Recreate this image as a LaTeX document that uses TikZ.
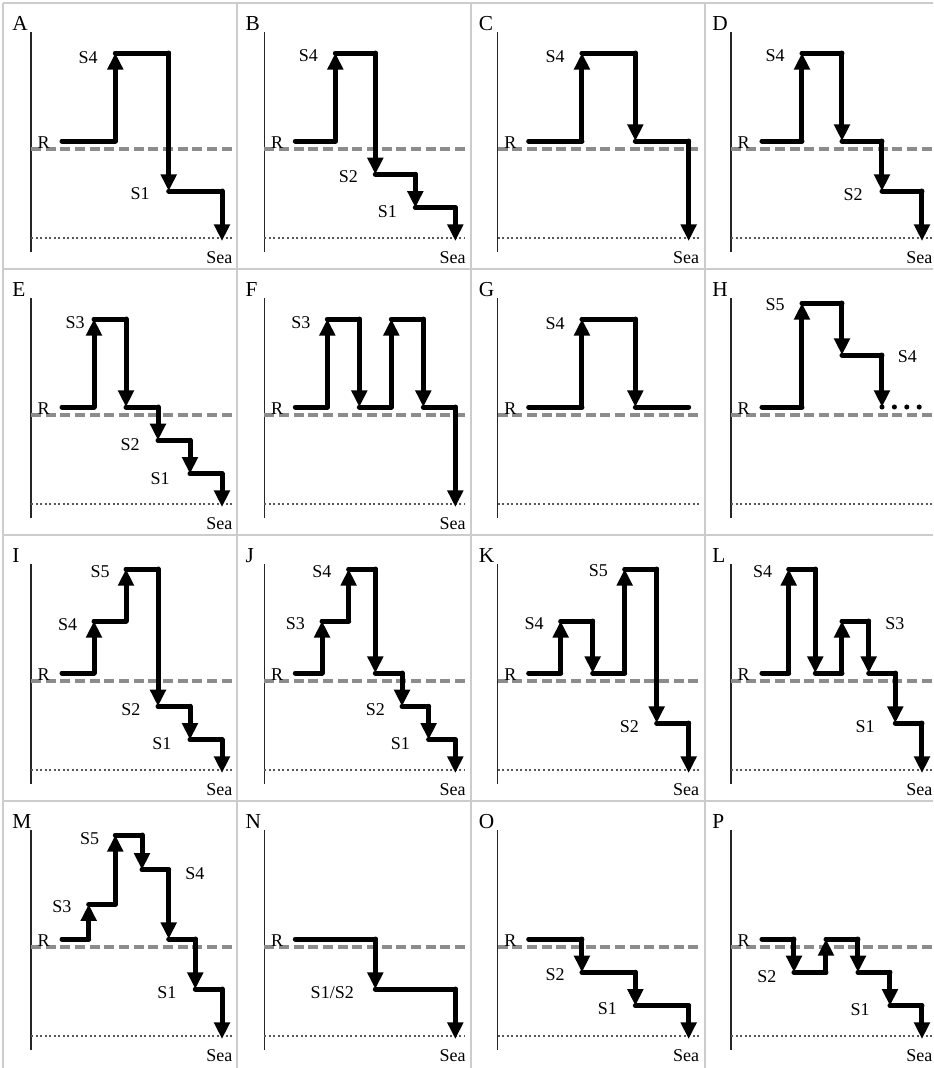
\documentclass[tikz,border=0pt]{standalone}
\usepackage{fontspec}
\setmainfont{Liberation Serif}
\usetikzlibrary{arrows.meta}

\def\colw{233.33}
\def\rowh{266}

\tikzset{
  gridline/.style={draw=black!20,line width=1.3pt},
  axisline/.style={draw=black!85,line width=1.1pt},
  riverlevel/.style={draw=black!45,line width=3pt,dash pattern=on 7.5pt off 3.5pt},
  sealevel/.style={draw=black!65,line width=2pt,dash pattern=on 1.5pt off 1.9pt},
  flow/.style={line width=3.75pt,line cap=round},
  flowstep/.style={flow,-{Triangle[length=12.5pt,width=11.5pt]}},
  stage/.style={inner sep=0pt},
  panelname/.style={inner sep=0pt,anchor=base west,font=\fontsize{16}{19}\selectfont},
}

% axis, river level, sea level and letter of one panel
\newcommand{\panelframe}[1]{%
  \draw[axisline] (28,29) -- (28,249);
  \draw[riverlevel] (28,146) -- (229,146);
  \draw[sealevel] (28,235) -- (229,235);
  \node[panelname] (#1) at (9,27.5) {#1};
  \node[stage,anchor=base east] (#1-R) at (47,145) {R};
}
% staircase through the points, arrows on the vertical parts
\newcommand{\stairs}[2]{%
  \foreach \px/\py [count=\n,remember=\n as \m (initially 0)] in {#2}{
    \coordinate (#1\n) at (\px,\py);
    \ifnum\n>1\relax
      \ifodd\n\relax \draw[flowstep] (#1\m) -- (#1\n);
      \else \draw[flow] (#1\m) -- (#1\n);
      \fi
    \fi
  }%
}

\begin{document}
\begin{tikzpicture}[x=0.75pt,y=-0.75pt,font=\fontsize{13.5}{16}\selectfont]
\useasboundingbox (0,0) rectangle (933,1068);
\foreach \gx in {3,237,471,705} \draw[gridline] (\gx,3) -- (\gx,1068);
\foreach \gy in {3,269,535,801} \draw[gridline] (3,\gy) -- (933,\gy);

% A
\begin{scope}[shift={(0*\colw+3,0*\rowh+3)}]
  \panelframe{A}
  \stairs{A}{59/138, 112.3/138, 112.3/50, 165.7/50, 165.7/188, 219/188, 219/238}
  \node[stage,anchor=east] (A-S4) at (95,55) {S4};
  \node[stage,anchor=east] (A-S1) at (147,191) {S1};
  \node[stage,below=8pt,xshift=-2pt] (A-sea) at (A7) {Sea};
\end{scope}
% B
\begin{scope}[shift={(1*\colw+3,0*\rowh+3)}]
  \panelframe{B}
  \stairs{B}{59/138, 99/138, 99/50, 139/50, 139/171.3, 179/171.3, 179/204.7, 219/204.7, 219/238}
  \node[stage,anchor=east] (B-S4) at (81.7,53) {S4};
  \node[stage,anchor=east] (B-S2) at (121.7,174) {S2};
  \node[stage,anchor=east] (B-S1) at (160.7,208.7) {S1};
  \node[stage,below=8pt,xshift=-2pt] (B-sea) at (B9) {Sea};
\end{scope}
% C
\begin{scope}[shift={(2*\colw+3,0*\rowh+3)}]
  \panelframe{C}
  \stairs{C}{59/138, 112.3/138, 112.3/50, 165.7/50, 165.7/138, 219/138, 219/238}
  \node[stage,anchor=east] (C-S4) at (95.3,54) {S4};
  \node[stage,below=8pt,xshift=-2pt] (C-sea) at (C7) {Sea};
\end{scope}
% D
\begin{scope}[shift={(3*\colw+3,0*\rowh+3)}]
  \panelframe{D}
  \stairs{D}{59/138, 99/138, 99/50, 139/50, 139/138, 179/138, 179/188, 219/188, 219/238}
  \node[stage,anchor=east] (D-S4) at (82,53) {S4};
  \node[stage,anchor=east] (D-S2) at (160,192) {S2};
  \node[stage,below=8pt,xshift=-2pt] (D-sea) at (D9) {Sea};
\end{scope}

% E
\begin{scope}[shift={(0*\colw+3,1*\rowh+3)}]
  \panelframe{E}
  \stairs{E}{59/138, 91/138, 91/50, 123/50, 123/138, 155/138, 155/171.3, 187/171.3, 187/204.7, 219/204.7, 219/238}
  \node[stage,anchor=east] (E-S3) at (82,54) {S3};
  \node[stage,anchor=east] (E-S2) at (137,176) {S2};
  \node[stage,anchor=east] (E-S1) at (167,210) {S1};
  \node[stage,below=8pt,xshift=-2pt] (E-sea) at (E11) {Sea};
\end{scope}
% F
\begin{scope}[shift={(1*\colw+3,1*\rowh+3)}]
  \panelframe{F}
  \stairs{F}{59/138, 91/138, 91/50, 123/50, 123/138, 155/138, 155/50, 187/50, 187/138, 219/138, 219/238}
  \node[stage,anchor=east] (F-S3) at (74.4,53.3) {S3};
  \node[stage,below=8pt,xshift=-2pt] (F-sea) at (F11) {Sea};
\end{scope}
% G
\begin{scope}[shift={(2*\colw+3,1*\rowh+3)}]
  \panelframe{G}
  \stairs{G}{59/138, 112.3/138, 112.3/50, 165.7/50, 165.7/138, 219/138}
  \node[stage,anchor=east] (G-S4) at (95.3,54.3) {S4};
\end{scope}
% H
\begin{scope}[shift={(3*\colw+3,1*\rowh+3)}]
  \panelframe{H}
  \stairs{H}{59/138, 99/138, 99/34, 139/34, 139/86, 179/86, 179/138}
  \foreach \k in {0,...,3} \fill (H7) ++(12.4*\k,0) circle[radius=1.9pt];
  \node[stage,anchor=east] (H-S5) at (82,36) {S5};
  \node[stage,anchor=west] (H-S4) at (194.7,87.7) {S4};
\end{scope}

% I
\begin{scope}[shift={(0*\colw+3,2*\rowh+3)}]
  \panelframe{I}
  \stairs{I}{59/138, 91/138, 91/86, 123/86, 123/34, 155/34, 155/171.3, 187/171.3, 187/204.7, 219/204.7, 219/238}
  \node[stage,anchor=east] (I-S5) at (107,36.7) {S5};
  \node[stage,anchor=east] (I-S4) at (74.3,90) {S4};
  \node[stage,anchor=east] (I-S2) at (137.7,175) {S2};
  \node[stage,anchor=east] (I-S1) at (168.7,208.3) {S1};
  \node[stage,below=8pt,xshift=-2pt] (I-sea) at (I11) {Sea};
\end{scope}
% J
\begin{scope}[shift={(1*\colw+3,2*\rowh+3)}]
  \panelframe{J}
  \stairs{J}{59/138, 85.7/138, 85.7/86, 112.3/86, 112.3/34, 139/34, 139/138, 165.7/138, 165.7/171.3, 192.3/171.3, 192.3/204.7, 219/204.7, 219/238}
  \node[stage,anchor=east] (J-S4) at (95.4,36.7) {S4};
  \node[stage,anchor=east] (J-S3) at (68.7,89) {S3};
  \node[stage,anchor=east] (J-S2) at (148.7,175) {S2};
  \node[stage,anchor=east] (J-S1) at (173.7,208.3) {S1};
  \node[stage,below=8pt,xshift=-2pt] (J-sea) at (J13) {Sea};
\end{scope}
% K
\begin{scope}[shift={(2*\colw+3,2*\rowh+3)}]
  \panelframe{K}
  \stairs{K}{59/138, 91/138, 91/86, 123/86, 123/138, 155/138, 155/34, 187/34, 187/188, 219/188, 219/238}
  \node[stage,anchor=east] (K-S5) at (138.6,36) {S5};
  \node[stage,anchor=east] (K-S4) at (74.3,88.3) {S4};
  \node[stage,anchor=east] (K-S2) at (169.6,191.7) {S2};
  \node[stage,below=8pt,xshift=-2pt] (K-sea) at (K11) {Sea};
\end{scope}
% L
\begin{scope}[shift={(3*\colw+3,2*\rowh+3)}]
  \panelframe{L}
  \stairs{L}{59/138, 85.7/138, 85.7/34, 112.3/34, 112.3/138, 139/138, 139/86, 165.7/86, 165.7/138, 192.3/138, 192.3/188, 219/188, 219/238}
  \node[stage,anchor=east] (L-S4) at (69.3,36.7) {S4};
  \node[stage,anchor=west] (L-S3) at (182,88.3) {S3};
  \node[stage,anchor=east] (L-S1) at (172,191.7) {S1};
  \node[stage,below=8pt,xshift=-2pt] (L-sea) at (L13) {Sea};
\end{scope}

% M
\begin{scope}[shift={(0*\colw+3,3*\rowh+3)}]
  \panelframe{M}
  \stairs{M}{59/138, 85.7/138, 85.7/103.3, 112.3/103.3, 112.3/34, 139/34, 139/68.7, 165.7/68.7, 165.7/138, 192.3/138, 192.3/188, 219/188, 219/238}
  \node[stage,anchor=east] (M-S5) at (96.3,37.3) {S5};
  \node[stage,anchor=west] (M-S4) at (182,72.3) {S4};
  \node[stage,anchor=east] (M-S3) at (68.7,105.7) {S3};
  \node[stage,anchor=east] (M-S1) at (173.7,191.3) {S1};
  \node[stage,below=8pt,xshift=-2pt] (M-sea) at (M13) {Sea};
\end{scope}
% N
\begin{scope}[shift={(1*\colw+3,3*\rowh+3)}]
  \panelframe{N}
  \stairs{N}{59/138, 139/138, 139/188, 219/188, 219/238}
  \node[stage,anchor=east] (N-S12) at (117.7,191.3) {S1/S2};
  \node[stage,below=8pt,xshift=-2pt] (N-sea) at (N5) {Sea};
\end{scope}
% O
\begin{scope}[shift={(2*\colw+3,3*\rowh+3)}]
  \panelframe{O}
  \stairs{O}{59/138, 112.3/138, 112.3/171.3, 165.7/171.3, 165.7/204.7, 219/204.7, 219/238}
  \node[stage,anchor=east] (O-S2) at (95.3,174) {S2};
  \node[stage,anchor=east] (O-S1) at (147.6,208) {S1};
  \node[stage,below=8pt,xshift=-2pt] (O-sea) at (O7) {Sea};
\end{scope}
% P
\begin{scope}[shift={(3*\colw+3,3*\rowh+3)}]
  \panelframe{P}
  \stairs{P}{59/138, 91/138, 91/171.3, 123/171.3, 123/138, 155/138, 155/171.3, 187/171.3, 187/204.7, 219/204.7, 219/238}
  \node[stage,anchor=east] (P-S2) at (73.7,175.7) {S2};
  \node[stage,anchor=east] (P-S1) at (167,208.3) {S1};
  \node[stage,below=8pt,xshift=-2pt] (P-sea) at (P11) {Sea};
\end{scope}
\end{tikzpicture}
\end{document}
